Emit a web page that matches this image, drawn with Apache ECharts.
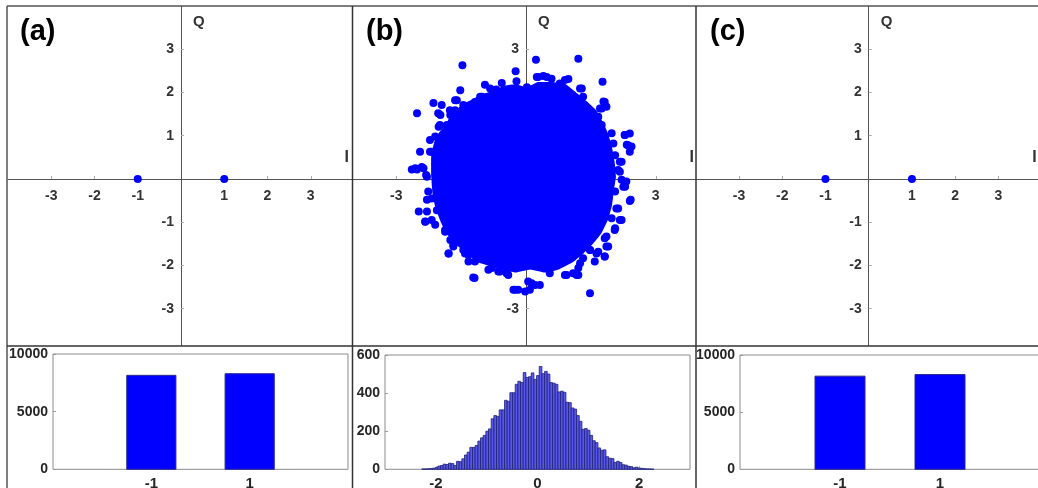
<!DOCTYPE html>
<html>
<head>
<meta charset="utf-8">
<script src="https://cdn.jsdelivr.net/npm/echarts@6/dist/echarts.min.js"></script>
<style>
html, body { margin: 0; padding: 0; background: #fff; }
#chart { width: 1038px; height: 488px; }
</style>
</head>
<body>
<div id="chart"></div>
<script>
// constellation points for (a) and (c)
var symbolI = [-1, 1];
var symbolQ = [0, 0];

// (b) noisy constellation: outline of the solid core and the loose points around it
var coreI = [-2.19, -2.09, -1.87, -1.71, -1.51, -1.26, -1.05, -0.8, -0.48, -0.24, 0.02, 0.27, 0.59, 0.92, 1.17, 1.41, 1.63, 1.79, 1.9, 1.99, 2.05, 2.08, 2.03, 1.99, 1.9, 1.74, 1.54, 1.34, 1.09, 0.76, 0.43, 0.1, -0.24, -0.56, -0.89, -1.13, -1.38, -1.63, -1.84, -1.96, -2.09, -2.16, -2.19];
var coreQ = [0.56, 0.96, 1.25, 1.46, 1.7, 1.83, 1.95, 2.03, 2.16, 2.19, 2.12, 2.24, 2.24, 2.19, 1.99, 1.79, 1.58, 1.29, 1.05, 0.72, 0.39, 0.05, -0.27, -0.6, -0.93, -1.26, -1.51, -1.71, -1.92, -2.09, -2.16, -2.09, -2.16, -2.09, -2.0, -1.92, -1.71, -1.51, -1.26, -1.02, -0.68, -0.35, 0.05];
var looseI = [-1.47, 0.23, 1.21, -0.24, -2.52, -2.14, -1.95, -1.52, -0.95, -0.69, -0.56, -0.22, 0.02, 0.25, 0.4, 0.59, 0.78, 0.98, 1.25, 1.32, 1.77, 1.82, 1.71, 1.67, 2.28, 2.4, 2.36, 2.44, 2.02, 2.17, 2.17, 2.32, 2.25, 2.42, 2.09, 2.17, 2.05, 1.86, 1.86, 1.82, 1.48, 1.63, 1.25, 1.48, 1.17, 0.94, 0.55, 0.32, 0.13, 0.09, -0.29, -0.18, -0.45, -0.64, -0.87, -1.19, -1.33, -1.79, -1.68, -1.41, -2.29, -2.48, -2.33, -2.18, -2.1, -2.64, -2.52, -2.41, -2.31, -2.45, -2.18, -2.22, -2.1, -2.02, -1.83, -1.75, -1.98, -1.6, -1.64, -1.18, -1.02, -1.98, -2.06, -1.87, -1.75,
  -0.83, -1.64, -2.03, -1.76, -1.45, -1.25, -1.06, -1.99, -1.72, -1.91, -1.99, -2.22, -2.03, -2.56, -2.37, -2.29, -1.91, -2.26, -2.18, -2.29, -2.33, -1.87, -1.79, -1.68, -1.79, -1.45, -1.33, -1.18, -0.99, -0.79, -0.6, -0.41, -1.22, -0.25,
  0.28, 0.48, 0.9, 1.29, 1.79, 1.75, 1.86, 1.48, 1.63, 1.75, 1.98, 2.29, 2.33, 2.4, 1.9, 2.06, 2.21, 2.13, 2.21, 2.29, 2.4, 2.06, 2.13, 2.21, 2.06, 1.98, 1.82, 1.9, 1.67, 1.48, 1.32, 1.82, 1.59, 1.21, 1.09, 0.9, 0.05, 0.21, -0.02, 1.21];
var looseQ = [2.63, 2.76, 2.78, 2.49, 1.52, 1.76, 1.71, 2.05, 2.18, 2.07, 2.22, 2.26, 2.12, 2.36, 2.38, 2.32, 2.21, 2.31, 2.09, 1.9, 2.25, 1.78, 1.63, 1.44, 1.02, 1.05, 0.78, 0.75, 0.82, 0.4, 0.17, -0.06, -0.18, -0.48, -0.68, -0.95, -1.18, -1.33, -1.56, -1.79, -1.64, -1.72, -1.95, -2.64, -2.22, -2.22, -2.18, -2.45, -2.41, -2.56, -2.56, -2.56, -2.18, -2.14, -2.1, -2.29, -1.91, -1.72, -1.56, -1.72, -0.48, -0.75, -0.98, -0.95, -1.06, 0.22, 0.22, 0.28, 0.09, 0.63, 0.63, 0.9, 0.98, 1.21, 1.25, 1.48, 1.48, 1.82, 1.59, 1.78, 1.9, -0.41, -0.72, -1.18, -1.41,
  2.09, 1.82, 1.52, 1.59, 1.71, 1.71, 1.9, 1.25, 1.32, 1.02, 0.79, 0.63, 0.55, 0.25, 0.25, 0.05, 0.4, -0.29, -0.45, -0.75, -0.99, -1.22, -0.99, -1.52, -1.72, -1.64, -1.76, -1.91, -1.83, -2.06, -2.14, -2.22, -2.28, -2.56,
  2.36, 2.36, 2.29, 2.09, 1.79, 1.63, 1.67, 1.48, 1.4, 1.25, 1.06, 1.02, 0.79, 0.63, 0.79, 0.55, 0.4, 0.21, -0.02, -0.18, -0.51, -0.29, -0.68, -0.95, -1.14, -0.91, -1.37, -1.56, -1.68, -1.64, -1.83, -1.79, -1.91, -2.06, -2.18, -2.22, -2.37, -2.45, -2.6, -2.22];

// histograms
var levelsAC = [-1, 1];
var countsA = [8150, 8290];
var countsC = [8150, 8290];
var histBFirstEdge = -2.276;
var histBBinWidth = 0.0525;
var histBCounts = [2, 2, 3, 4, 6, 9, 17, 20, 27, 25, 32, 30, 20, 42, 40, 55, 75, 90, 115, 115,
  125, 148, 165, 178, 200, 212, 265, 282, 278, 312, 312, 362, 357, 402, 402, 446, 462, 456, 508, 482,
  486, 506, 472, 492, 540, 502, 514, 500, 455, 452, 446, 406, 410, 404, 352, 350, 322, 316, 282, 252,
  210, 214, 205, 178, 150, 140, 112, 100, 102, 66, 58, 56, 36, 42, 36, 24, 22, 16, 14, 8,
  11, 6, 5, 3, 2, 2, 1];

var iqTicks = [-3, -2, -1, 1, 2, 3];
var iqTicksB = [-3, 3];
var histXTicksAC = [-1, 1];
var histXTicksB = [-2, 0, 2];

var FONT = '"Liberation Sans", Arial, sans-serif';
var BLUE = '#0000ff';

// top panels: I from -4 to 4, Q from -3.85 to 4
var IQ_W = 346, IQ_H = 339.5, IQ_QMIN = -3.85, IQ_QMAX = 4;

function iqXAxis(idx, ticks) {
	return {
		gridIndex : idx,
		type : 'value',
		min : -4,
		max : 4,
		position : 'bottom',
		offset : -IQ_H * (-IQ_QMIN) / (IQ_QMAX - IQ_QMIN),
		name : 'I',
		nameLocation : 'end',
		nameGap : -5,
		nameTextStyle : {
			align : 'right',
			verticalAlign : 'bottom',
			padding : [ 0, 0, 13, 0 ],
			fontFamily : FONT,
			fontWeight : 'bold',
			fontSize : 16,
			color : '#333'
		},
		axisLine : {
			onZero : false,
			lineStyle : { color : '#555', width : 1 }
		},
		axisTick : {
			inside : true,
			length : 3,
			customValues : ticks,
			lineStyle : { color : '#aaa' }
		},
		axisLabel : {
			customValues : ticks,
			margin : 10,
			fontFamily : FONT,
			fontWeight : 'bold',
			fontSize : 14,
			color : '#333'
		},
		splitLine : { show : false }
	};
}

function iqYAxis(idx, ticks) {
	return {
		gridIndex : idx,
		type : 'value',
		min : IQ_QMIN,
		max : IQ_QMAX,
		position : 'left',
		offset : -IQ_W / 2,
		name : 'Q',
		nameLocation : 'end',
		nameGap : -16,
		nameTextStyle : {
			align : 'left',
			verticalAlign : 'middle',
			padding : [ 0, 0, 0, 12 ],
			fontFamily : FONT,
			fontWeight : 'bold',
			fontSize : 15,
			color : '#333'
		},
		axisLine : {
			onZero : false,
			lineStyle : { color : '#555', width : 1 }
		},
		axisTick : {
			inside : true,
			length : 3,
			customValues : ticks,
			lineStyle : { color : '#aaa' }
		},
		axisLabel : {
			customValues : ticks,
			margin : 7,
			fontFamily : FONT,
			fontWeight : 'bold',
			fontSize : 14,
			color : '#333'
		},
		splitLine : { show : false }
	};
}

function histXAxis(idx, ticks) {
	return {
		gridIndex : idx,
		type : 'value',
		min : -3,
		max : 3,
		axisLine : { show : false, onZero : false },
		axisTick : {
			inside : true,
			length : 3,
			customValues : ticks,
			lineStyle : { color : '#999' }
		},
		axisLabel : {
			customValues : ticks,
			margin : 7,
			fontFamily : FONT,
			fontWeight : 'bold',
			fontSize : 15,
			color : '#262626'
		},
		splitLine : { show : false }
	};
}

function histYAxis(idx, max, step) {
	return {
		gridIndex : idx,
		type : 'value',
		min : 0,
		max : max,
		interval : step,
		axisLine : { show : false, onZero : false },
		axisTick : {
			inside : true,
			length : 3,
			lineStyle : { color : '#999' }
		},
		axisLabel : {
			margin : 5,
			formatter : function(v) { return String(v); },
			fontFamily : FONT,
			fontWeight : 'bold',
			fontSize : 14,
			color : '#262626'
		},
		splitLine : { show : false }
	};
}

function histRender(fill, stroke, lw) {
	return function(params, api) {
		var x = api.value(0), h = api.value(1), w = api.value(2);
		var p0 = api.coord([ x - w / 2, h ]);
		var p1 = api.coord([ x + w / 2, 0 ]);
		return {
			type : 'rect',
			shape : { x : p0[0], y : p0[1], width : p1[0] - p0[0], height : p1[1] - p0[1] },
			style : { fill : fill, stroke : stroke, lineWidth : lw }
		};
	};
}

function pairs(xs, ys) {
	return xs.map(function(v, k) { return [ v, ys[k] ]; });
}

var iqGrid = function(cx) {
	return { left : cx - IQ_W / 2, top : 6, width : IQ_W, height : IQ_H, outerBoundsMode : 'none' };
};

var titleStyle = { fontFamily : FONT, fontSize : 29, fontWeight : 'bold', color : '#000' };

var option = {
	animation : false,
	backgroundColor : '#fff',
	title : [
		{ text : '(a)', left : 15, top : 12, textStyle : titleStyle },
		{ text : '(b)', left : 361, top : 12, textStyle : titleStyle },
		{ text : '(c)', left : 705, top : 12, textStyle : titleStyle }
	],
	grid : [
		iqGrid(181), iqGrid(526), iqGrid(868.7),
		{ left : 53, top : 354, width : 295, height : 115.3, show : true, borderColor : '#8c8c8c', borderWidth : 1, outerBoundsMode : 'none' },
		{ left : 385, top : 355, width : 305, height : 114.3, show : true, borderColor : '#8c8c8c', borderWidth : 1, outerBoundsMode : 'none' },
		{ left : 740, top : 355, width : 300, height : 114.3, show : true, borderColor : '#8c8c8c', borderWidth : 1, outerBoundsMode : 'none' }
	],
	xAxis : [
		iqXAxis(0, iqTicks), iqXAxis(1, iqTicksB), iqXAxis(2, iqTicks),
		histXAxis(3, histXTicksAC), histXAxis(4, histXTicksB), histXAxis(5, histXTicksAC)
	],
	yAxis : [
		iqYAxis(0, iqTicks), iqYAxis(1, iqTicksB), iqYAxis(2, iqTicks),
		histYAxis(3, 10000, 5000), histYAxis(4, 600, 200), histYAxis(5, 10000, 5000)
	],
	series : [ {
		type : 'scatter',
		xAxisIndex : 0,
		yAxisIndex : 0,
		symbolSize : 8,
		itemStyle : { color : BLUE, opacity : 1 },
		data : pairs(symbolI, symbolQ)
	}, {
		type : 'custom',
		xAxisIndex : 1,
		yAxisIndex : 1,
		renderItem : function(params, api) {
			var pts = coreI.map(function(v, k) { return api.coord([ v, coreQ[k] ]); });
			return {
				type : 'polygon',
				shape : { points : pts, smooth : 0.1 },
				style : { fill : BLUE }
			};
		},
		data : [ [ 0, 0 ] ]
	}, {
		type : 'scatter',
		xAxisIndex : 1,
		yAxisIndex : 1,
		symbolSize : 8,
		itemStyle : { color : BLUE, opacity : 1 },
		data : pairs(looseI, looseQ)
	}, {
		type : 'scatter',
		xAxisIndex : 2,
		yAxisIndex : 2,
		symbolSize : 8,
		itemStyle : { color : BLUE, opacity : 1 },
		data : pairs(symbolI, symbolQ)
	}, {
		type : 'custom',
		xAxisIndex : 3,
		yAxisIndex : 3,
		renderItem : histRender(BLUE, '#2a2a8a', 1),
		data : levelsAC.map(function(v, k) { return [ v, countsA[k], 1 ]; })
	}, {
		type : 'custom',
		xAxisIndex : 4,
		yAxisIndex : 4,
		renderItem : histRender('#5858e4', '#20207a', 0.8),
		data : histBCounts.map(function(c, k) {
			return [ histBFirstEdge + (k + 0.5) * histBBinWidth, c, histBBinWidth ];
		})
	}, {
		type : 'custom',
		xAxisIndex : 5,
		yAxisIndex : 5,
		renderItem : histRender(BLUE, '#2a2a8a', 1),
		data : levelsAC.map(function(v, k) { return [ v, countsC[k], 1 ]; })
	} ],
	graphic : [
		{ type : 'line', shape : { x1 : 7, y1 : 6, x2 : 1038, y2 : 6 }, style : { stroke : '#555', lineWidth : 1.5 }, z : 50 },
		{ type : 'line', shape : { x1 : 7, y1 : 6, x2 : 7, y2 : 488 }, style : { stroke : '#555', lineWidth : 1.5 }, z : 50 },
		{ type : 'line', shape : { x1 : 352.5, y1 : 6, x2 : 352.5, y2 : 488 }, style : { stroke : '#333', lineWidth : 1.5 }, z : 50 },
		{ type : 'line', shape : { x1 : 696, y1 : 6, x2 : 696, y2 : 488 }, style : { stroke : '#333', lineWidth : 1.5 }, z : 50 },
		{ type : 'line', shape : { x1 : 7, y1 : 346, x2 : 1038, y2 : 346 }, style : { stroke : '#333', lineWidth : 1.5 }, z : 50 }
	]
};

var chart = echarts.init(document.getElementById('chart'));
chart.setOption(option);
</script>
</body>
</html>
